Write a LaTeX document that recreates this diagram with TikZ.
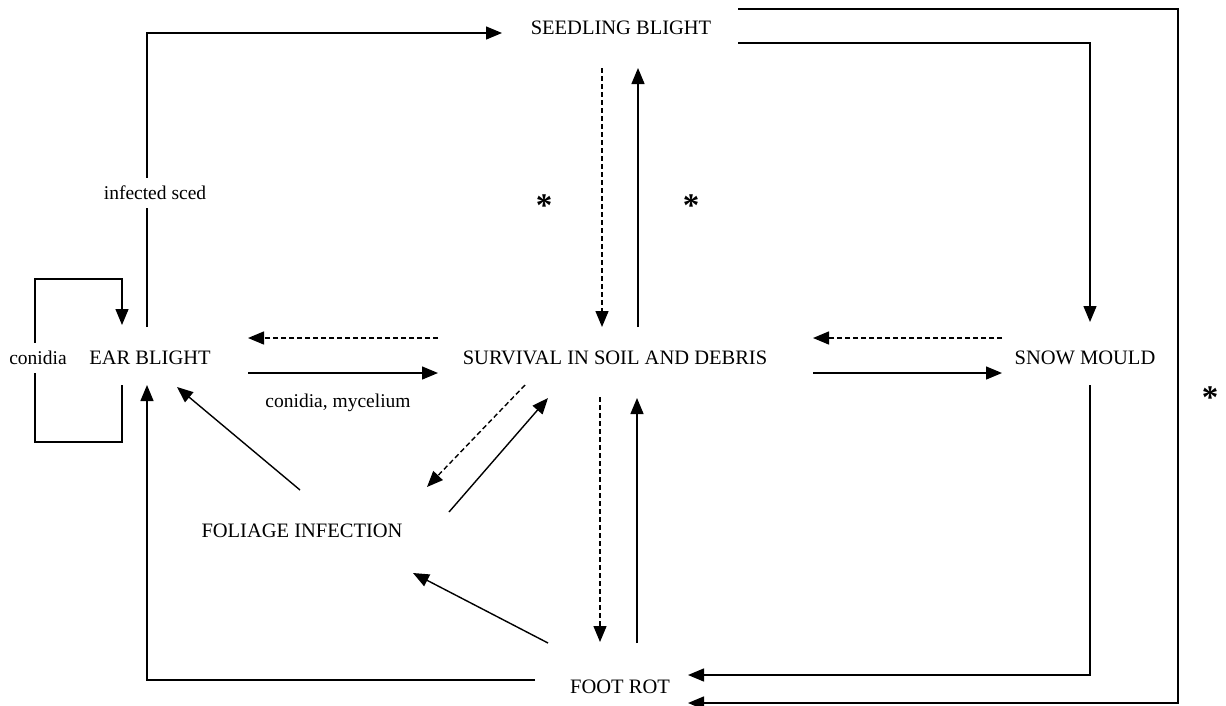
\documentclass[tikz,border=0pt]{standalone}
\usepackage{fontspec}
\setmainfont{Liberation Serif}
\usetikzlibrary{arrows.meta,calc}
\tikzset{
  lbl/.style={inner sep=0pt, font=\fontsize{20.5}{23}\selectfont},
  small/.style={inner sep=0pt, font=\fontsize{19.5}{22}\selectfont},
  gap/.style={fill=white, inner xsep=2pt, inner ysep=8pt, font=\fontsize{19.5}{22}\selectfont},
  staricon/.style={inner sep=0pt, anchor=base, font=\fontsize{33}{33}\selectfont\bfseries},
  arr/.style={line width=1.4pt, -{Triangle[length=16pt,width=13pt]}},
  dasharr/.style={line width=1.4pt, dash pattern=on 5pt off 3pt, -{Triangle[length=16pt,width=13pt]}},
}
\begin{document}
\begin{tikzpicture}[x=1pt,y=-1pt]
\useasboundingbox (0,0) rectangle (1226,705);
% main nodes
\node[lbl] (sb) at (621,28) {SEEDLING BLIGHT};
\node[lbl] (eb) at (150,358) {EAR BLIGHT};
\node[lbl] (sv) at (615,358) {SURVIVAL IN SOIL AND DEBRIS};
\node[lbl] (sm) at (1085,358) {SNOW MOULD};
\node[lbl] (fi) at (302,531) {FOLIAGE INFECTION};
\node[lbl] (fr) at (620,687) {FOOT ROT};
% ear blight -> seedling blight (infected seed)
\draw[arr] ($(eb)+(-3,-31)$) |- ($(sb)+(-119,5)$);
\node[gap] (is) at (155,193) {infected sced};
% seedling blight -> snow mould
\draw[arr] ($(sb)+(117,15)$) -| ($(sm)+(5,-36)$);
% seedling blight -> foot rot (outer)
\draw[arr] ($(sb)+(117,-19)$) -| ($(fr)+(558,16)$) -- ($(fr)+(68,16)$);
% snow mould -> foot rot
\draw[arr] ($(sm)+(5,27)$) |- ($(fr)+(68,-12)$);
% foot rot -> ear blight
\draw[arr] ($(fr)+(-85,-7)$) -| ($(eb)+(-3,27)$);
% conidia loop
\draw[arr] ($(eb)+(-28,27)$) -- ($(eb)+(-28,84)$) -- ($(eb)+(-115,84)$)
   -- ($(eb)+(-115,-79)$) -- ($(eb)+(-28,-79)$) -- ($(eb)+(-28,-33)$);
\node[gap] (cn) at (38,358) {conidia};
% ear blight <-> survival
\draw[dasharr] ($(sv)+(-177,-20)$) -- ($(eb)+(98,-20)$);
\draw[arr] ($(eb)+(98,15)$) -- ($(sv)+(-177,15)$);
\node[small] (cm) at (338,403) {conidia, mycelium};
% snow mould <-> survival
\draw[dasharr] ($(sm)+(-83,-20)$) -- ($(sv)+(198,-20)$);
\draw[arr] ($(sv)+(198,15)$) -- ($(sm)+(-83,15)$);
% seedling blight <-> survival
\draw[dasharr] ($(sb)+(-19,40)$) -- ($(sv)+(-13,-31)$);
\draw[arr] ($(sv)+(23,-31)$) -- ($(sb)+(17,40)$);
% survival <-> foot rot
\draw[dasharr] ($(sv)+(-15,39)$) -- ($(fr)+(-20,-45)$);
\draw[arr] ($(fr)+(17,-44)$) -- ($(sv)+(22,40)$);
% survival <-> foliage
\draw[dasharr] ($(sv)+(-90,27)$) -- ($(fi)+(125,-44)$);
\draw[arr] ($(fi)+(147,-19)$) -- ($(sv)+(-67,40)$);
% foliage -> ear blight
\draw[arr] ($(fi)+(-2,-41)$) -- ($(eb)+(27,29)$);
% foot rot -> foliage
\draw[arr] ($(fr)+(-72,-44)$) -- ($(fi)+(111,42)$);
% stars
\node[staricon] (s1) at (544,216) {*};
\node[staricon] (s2) at (691,216) {*};
\node[staricon] (s3) at (1210,408) {*};
\end{tikzpicture}
\end{document}
